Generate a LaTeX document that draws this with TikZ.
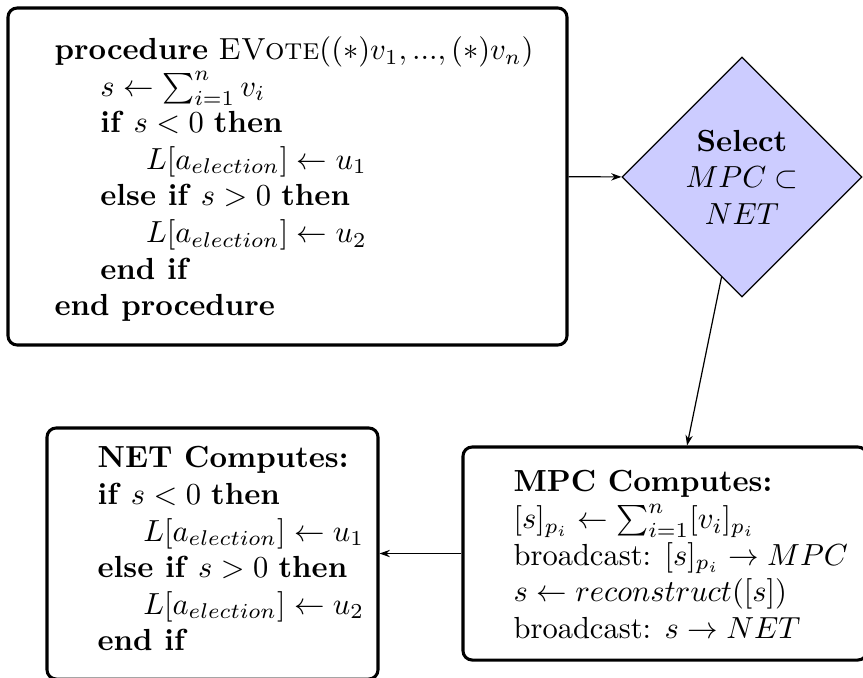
\documentclass[tikz,border=0pt]{standalone}
\usetikzlibrary{shapes.geometric,arrows.meta}
\newcommand{\algind}{\hspace*{15pt}}
\begin{document}
\begin{tikzpicture}[x=0.32787pt,y=-0.32787pt,
  box/.style={draw,line width=1pt,rounded corners=3pt},
  code/.style={align=left,inner sep=0pt,anchor=north west},
  decision/.style={diamond,draw,fill=blue!20,aspect=1,
    minimum width=78.69pt,minimum height=78.69pt,inner sep=0pt,align=center},
  flow/.style={-{Stealth[length=3.4pt,width=2.4pt]},line width=0.4pt}]
\useasboundingbox (0,0) rectangle (863,677);
\clip (0,0) rectangle (863,677);

% frames
\node[box,minimum width=183.28pt,minimum height=110.49pt] (proc) at (287.5,176.5) {};
\node[decision] (sel) at (742,177) {\textbf{Select}\\$MPC \subset$\\$NET$};
\node[box,minimum width=132.46pt,minimum height=69.84pt] (mpc) at (665,553.5) {};
\node[box,minimum width=108.52pt,minimum height=82.30pt] (net) at (212.5,553.5) {};

% contents of the frames
\node[code] (proctext) at (54,36) {%
  \textbf{procedure} \textsc{EVote}$((*)v_1, ..., (*)v_n)$\\
  \algind$s \leftarrow \sum_{i=1}^{n} v_i$\\
  \algind\textbf{if} $s < 0$ \textbf{then}\\
  \algind\algind$L[a_{election}] \leftarrow u_1$\\
  \algind\textbf{else if} $s > 0$ \textbf{then}\\
  \algind\algind$L[a_{election}] \leftarrow u_2$\\
  \algind\textbf{end if}\\
  \textbf{end procedure}};
\node[code] (mpctext) at (513,470) {%
  \textbf{MPC Computes:}\\
  $[s]_{p_i} \leftarrow \sum_{i=1}^{n}[v_i]_{p_i}$\\
  broadcast: $[s]_{p_i} \rightarrow MPC$\\
  $s \leftarrow reconstruct([s])$\\
  broadcast: $s \rightarrow NET$};
\node[code] (nettext) at (97,446) {%
  \textbf{NET Computes:}\\
  \textbf{if} $s < 0$ \textbf{then}\\
  \algind$L[a_{election}] \leftarrow u_1$\\
  \textbf{else if} $s > 0$ \textbf{then}\\
  \algind$L[a_{election}] \leftarrow u_2$\\
  \textbf{end if}};

% connectors
\draw[flow] (proc) -- (sel);
\draw[flow] (sel) -- (mpc);
\draw[flow] (mpc) -- (net);
\end{tikzpicture}
\end{document}
